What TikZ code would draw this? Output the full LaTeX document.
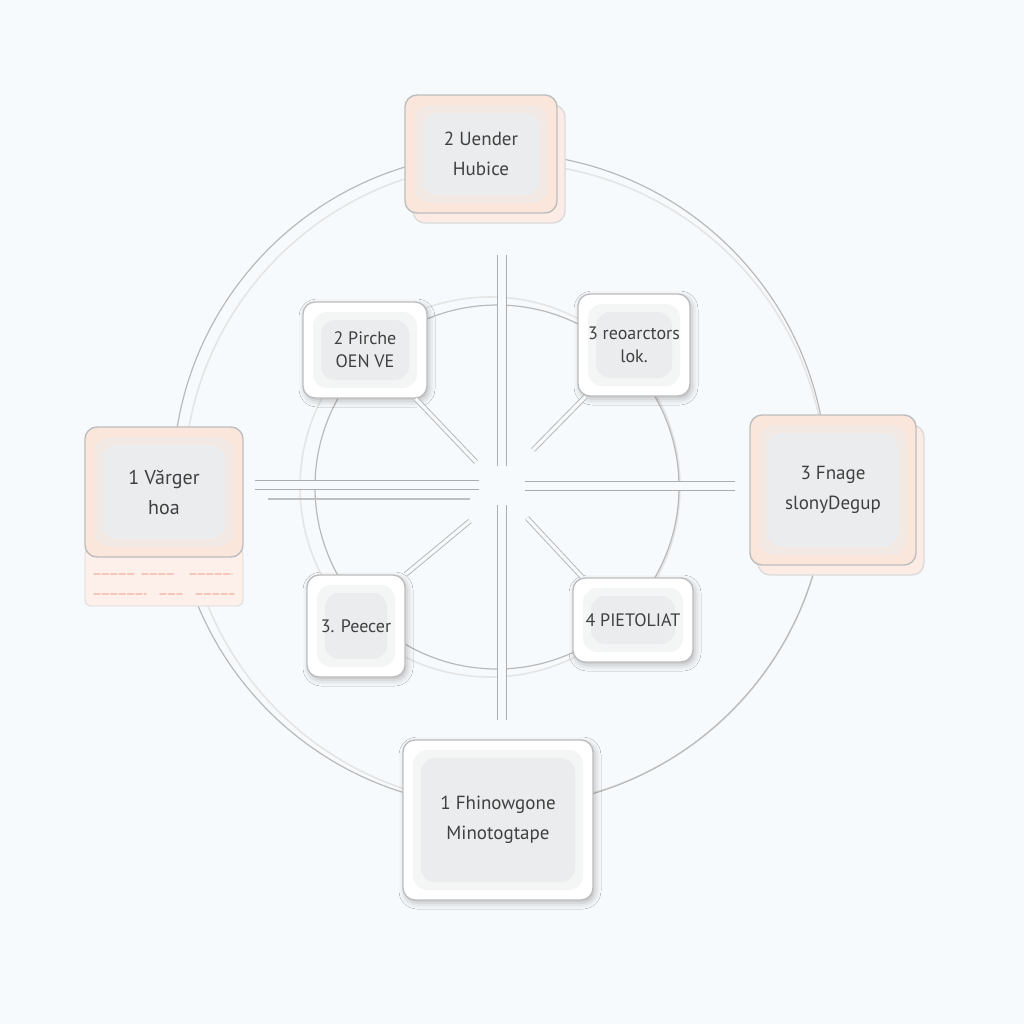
\documentclass[tikz,border=0pt]{standalone}
\usepackage{fontspec}
\setmainfont{PT Sans}
\usetikzlibrary{positioning}
\usetikzlibrary{shadows.blur}

\definecolor{bg}{HTML}{F7FAFC}
\definecolor{peach}{HTML}{FBE6DC}
\definecolor{ink}{HTML}{404040}
\definecolor{rim}{HTML}{BDBDBD}
\definecolor{core}{HTML}{EBECED}
\definecolor{warmcore}{HTML}{EFE9E6}
\definecolor{notered}{HTML}{F5C6BC}

\tikzset{
  ring/.style={draw=gray!55, line width=0.6pt},
  faint/.style={draw=gray!20, line width=0.8pt},
  spoke/.style={draw=gray!65, line width=0.7pt, double=bg, double distance=4pt},
  link/.style={draw=gray!55, line width=0.5pt, double=bg, double distance=1.6pt},
  card/.style={draw=rim, line width=0.7pt, rounded corners=6pt, fill=white, text=ink,
    align=center, font=\fontsize{9}{11.5}\selectfont,
    path picture={
      \fill[#1, fill opacity=0.5, rounded corners=7pt]
        ([shift={(5pt,5pt)}]path picture bounding box.south west) rectangle
        ([shift={(-5pt,-5pt)}]path picture bounding box.north east);
      \fill[#1, rounded corners=7pt]
        ([shift={(9pt,9pt)}]path picture bounding box.south west) rectangle
        ([shift={(-9pt,-9pt)}]path picture bounding box.north east);}},
  card/.default=core,
  soft/.style={blur shadow={shadow xshift=1pt, shadow yshift=-1.5pt,
    shadow blur radius=3pt, shadow opacity=25}},
  bigcard/.style={card, font=\fontsize{9.5}{15}\selectfont},
  warmcard/.style={bigcard=warmcore, fill=peach,
    preaction={fill=peach!75, draw=rim!55, transform canvas={xshift=4pt, yshift=-5pt}}},
  scrib/.style={draw=notered, line width=0.8pt, line cap=round, dash pattern=on 3pt off 1.2pt}
}

\begin{document}
\begin{tikzpicture}[x=0.5pt, y=-0.5pt]
  %---------------- frame ----------------
  \useasboundingbox (0,0) rectangle (1024,1024);
  \fill[bg] (0,0) rectangle (1024,1024);

  %---------------- rings ----------------
  \draw[faint] (505,484) circle [radius=321];
  \draw[ring] (500,480) circle [radius=327];
  \draw[faint] (490,487) circle [radius=190];
  \draw[ring] (497,487) circle [radius=182];

  %---------------- spokes ----------------
  \coordinate (n1) at (502,255);
  \coordinate (n2) at (502,466);
  \coordinate (s1) at (502,505);
  \coordinate (s2) at (502,720);
  \coordinate (w1) at (255,485);
  \coordinate (w2) at (479,485);
  \coordinate (w3) at (268,499);
  \coordinate (w4) at (470,499);
  \coordinate (e1) at (525,486);
  \coordinate (e2) at (735,486);
  \draw[spoke] (n1) -- (n2);
  \draw[spoke] (s1) -- (s2);
  \draw[spoke] (w1) -- (w2);
  \draw[spoke] (e1) -- (e2);
  \draw[gray!50, line width=0.6pt] (w3) -- (w4);

  %---------------- outer cards ----------------
  \node[warmcard, minimum width=76pt, minimum height=59pt] (top) at (481,154)
    {2 Uender\\Hubice};
  \node[warmcard, minimum width=83pt, minimum height=75pt] (right) at (833,490)
    {3 Fnage\\slonyDegup};
  \node[bigcard, soft, minimum width=95pt, minimum height=80pt] (bottom) at (498,820)
    {1 Fhinowgone\\Minotogtape};

  \node[draw=rim!60, fill=peach!60, minimum width=79pt, minimum height=29pt,
    rounded corners=3pt] (leftnote) at (164,577) {};
  \node[bigcard=warmcore, fill=peach, minimum width=79pt, minimum height=65pt,
    font=\fontsize{10}{15}\selectfont] (left) at (164,492) {1 Vărger\\hoa};
  \foreach \a/\b/\y in {94/134/574, 142/174/574, 190/232/574,
                        94/146/594, 160/182/594, 196/234/594}
    \draw[scrib] (\a,\y) -- (\b,\y);

  %---------------- inner cards ----------------
  \node[card, soft, minimum width=62pt, minimum height=48pt] (ul) at (365,350)
    {2 Pirche\\OEN VE};
  \node[card, soft, minimum width=56pt, minimum height=51pt] (ur) at (634,345)
    {3 reoarctors\\lok.};
  \node[card, soft, minimum width=49pt, minimum height=51pt] (ll) at (356,626)
    {3. Peecer};
  \node[card, soft, minimum width=60pt, minimum height=42pt] (lr) at (633,620)
    {4 PIETOLIAT};

  %---------------- links ----------------
  \coordinate (d1) at (476,462);
  \coordinate (d2) at (533,450);
  \coordinate (d3) at (470,521);
  \coordinate (d4) at (527,518);
  \draw[link] ([xshift=-6pt]ul.south east) -- (d1);
  \draw[link] ([xshift=4pt]ur.south west) -- (d2);
  \draw[link] (ll.north east) -- (d3);
  \draw[link] ([xshift=5pt]lr.north west) -- (d4);
\end{tikzpicture}
\end{document}
